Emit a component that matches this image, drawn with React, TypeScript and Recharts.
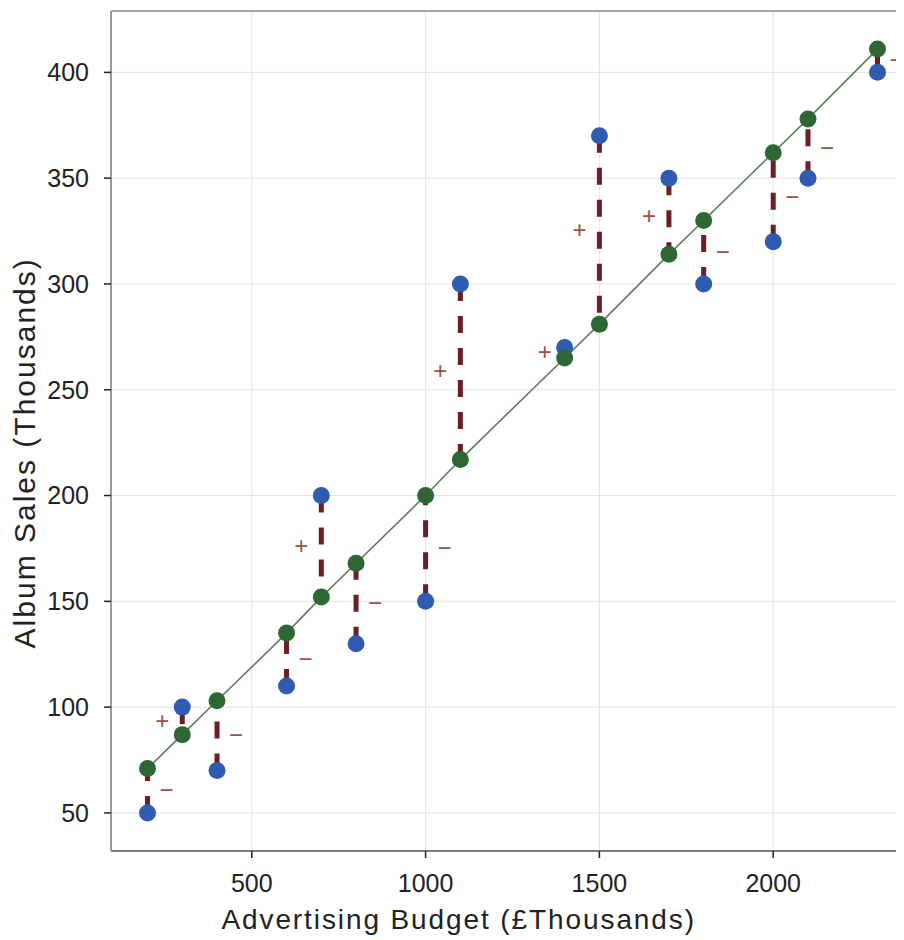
import {
  CartesianGrid,
  ComposedChart,
  Label,
  Line,
  ReferenceLine,
  Scatter,
  XAxis,
  YAxis,
} from 'recharts';

// advertising budget (£ thousands)
const budget = [200, 300, 400, 600, 700, 800, 1000, 1100, 1400, 1500, 1700, 1800, 2000, 2100, 2300];
// observed album sales (thousands)
const observed = [50, 100, 70, 110, 200, 130, 150, 300, 270, 370, 350, 300, 320, 350, 400];
// fitted values on the regression line
const predicted = [71, 87, 103, 135, 152, 168, 200, 217, 265, 281, 314, 330, 362, 378, 411];

const xTicks = [500, 1000, 1500, 2000];
const yTicks = [50, 100, 150, 200, 250, 300, 350, 400];
const xDomain = [95, 2405];
const yDomain = [32, 429];

const FONT = '"Liberation Sans", Arial, Helvetica, sans-serif';
const BLUE = '#2f5bb0';
const GREEN = '#2e6634';
const RESID = '#6b1f24';
const SIGN = '#9a5044';

const rows = budget.map((x, i) => ({
  x,
  obs: observed[i],
  pred: predicted[i],
  mid: (observed[i] + predicted[i]) / 2,
  sign: observed[i] >= predicted[i] ? '+' : '\u2212',
}));

const dot = (color: string) => (props: any) => (
  <circle cx={props.cx} cy={props.cy} r={8.5} fill={color} />
);

const signLabel = (props: any) => {
  const plus = props.payload?.sign === '+';
  return (
    <text
      x={props.cx + (plus ? -20 : 19)}
      y={props.cy}
      dy="0.32em"
      textAnchor="middle"
      fontSize={24}
      fontFamily={FONT}
      fill={SIGN}
    >
      {props.payload?.sign}
    </text>
  );
};

export default function App() {
  return (
    <div style={{ width: 896, height: 932, overflow: 'hidden', position: 'relative' }}>
      <ComposedChart
        width={930}
        height={932}
        data={rows}
        margin={{ top: 3, right: 24, bottom: 0, left: 0 }}
      >
        <CartesianGrid stroke="#e4e4e4" strokeWidth={1} />
        <XAxis
          type="number"
          dataKey="x"
          domain={xDomain}
          ticks={xTicks}
          allowDataOverflow
          height={89}
          tickSize={7}
          tickMargin={16}
          axisLine={{ stroke: '#555', strokeWidth: 1.5 }}
          tickLine={{ stroke: '#222', strokeWidth: 1.5 }}
          tick={{ fontSize: 25, fontFamily: FONT, fill: '#222' }}
        >
          <Label
            content={({ viewBox }: any) => (
              <text
                x={viewBox.x + viewBox.width * 0.433}
                y={viewBox.y + 78}
                textAnchor="middle"
                fontSize={28}
                letterSpacing={1.9}
                fontFamily={FONT}
                fill="#222"
              >
                Advertising Budget (£Thousands)
              </text>
            )}
          />
        </XAxis>
        <YAxis
          type="number"
          domain={yDomain}
          ticks={yTicks}
          allowDataOverflow
          width={103}
          tickSize={7}
          tickMargin={15}
          axisLine={{ stroke: '#999', strokeWidth: 2 }}
          tickLine={{ stroke: '#222', strokeWidth: 1.5 }}
          tick={{ fontSize: 25, fontFamily: FONT, fill: '#222' }}
        >
          <Label
            content={({ viewBox }: any) => {
              const lx = viewBox.x + 27;
              const ly = viewBox.y + viewBox.height * 0.526;
              return (
                <text
                  x={lx}
                  y={ly}
                  transform={`rotate(-90, ${lx}, ${ly})`}
                  textAnchor="middle"
                  fontSize={30}
                  letterSpacing={2}
                  fontFamily={FONT}
                  fill="#222"
                >
                  Album Sales (Thousands)
                </text>
              );
            }}
          />
        </YAxis>
        <ReferenceLine y={yDomain[1]} stroke="#8a8a8a" strokeWidth={1.5} />
        <Line
          dataKey="pred"
          type="linear"
          stroke="#5d7d5d"
          strokeWidth={1.6}
          dot={false}
          activeDot={false}
          isAnimationActive={false}
        />
        {rows.map((r) => (
          <ReferenceLine
            key={r.x}
            segment={[
              { x: r.x, y: r.obs },
              { x: r.x, y: r.pred },
            ]}
            stroke={RESID}
            strokeWidth={5}
            strokeDasharray="17 15"
          />
        ))}
        <Scatter dataKey="obs" shape={dot(BLUE)} isAnimationActive={false} />
        <Scatter dataKey="pred" shape={dot(GREEN)} isAnimationActive={false} />
        <Scatter dataKey="mid" shape={signLabel} isAnimationActive={false} />
      </ComposedChart>
    </div>
  );
}
